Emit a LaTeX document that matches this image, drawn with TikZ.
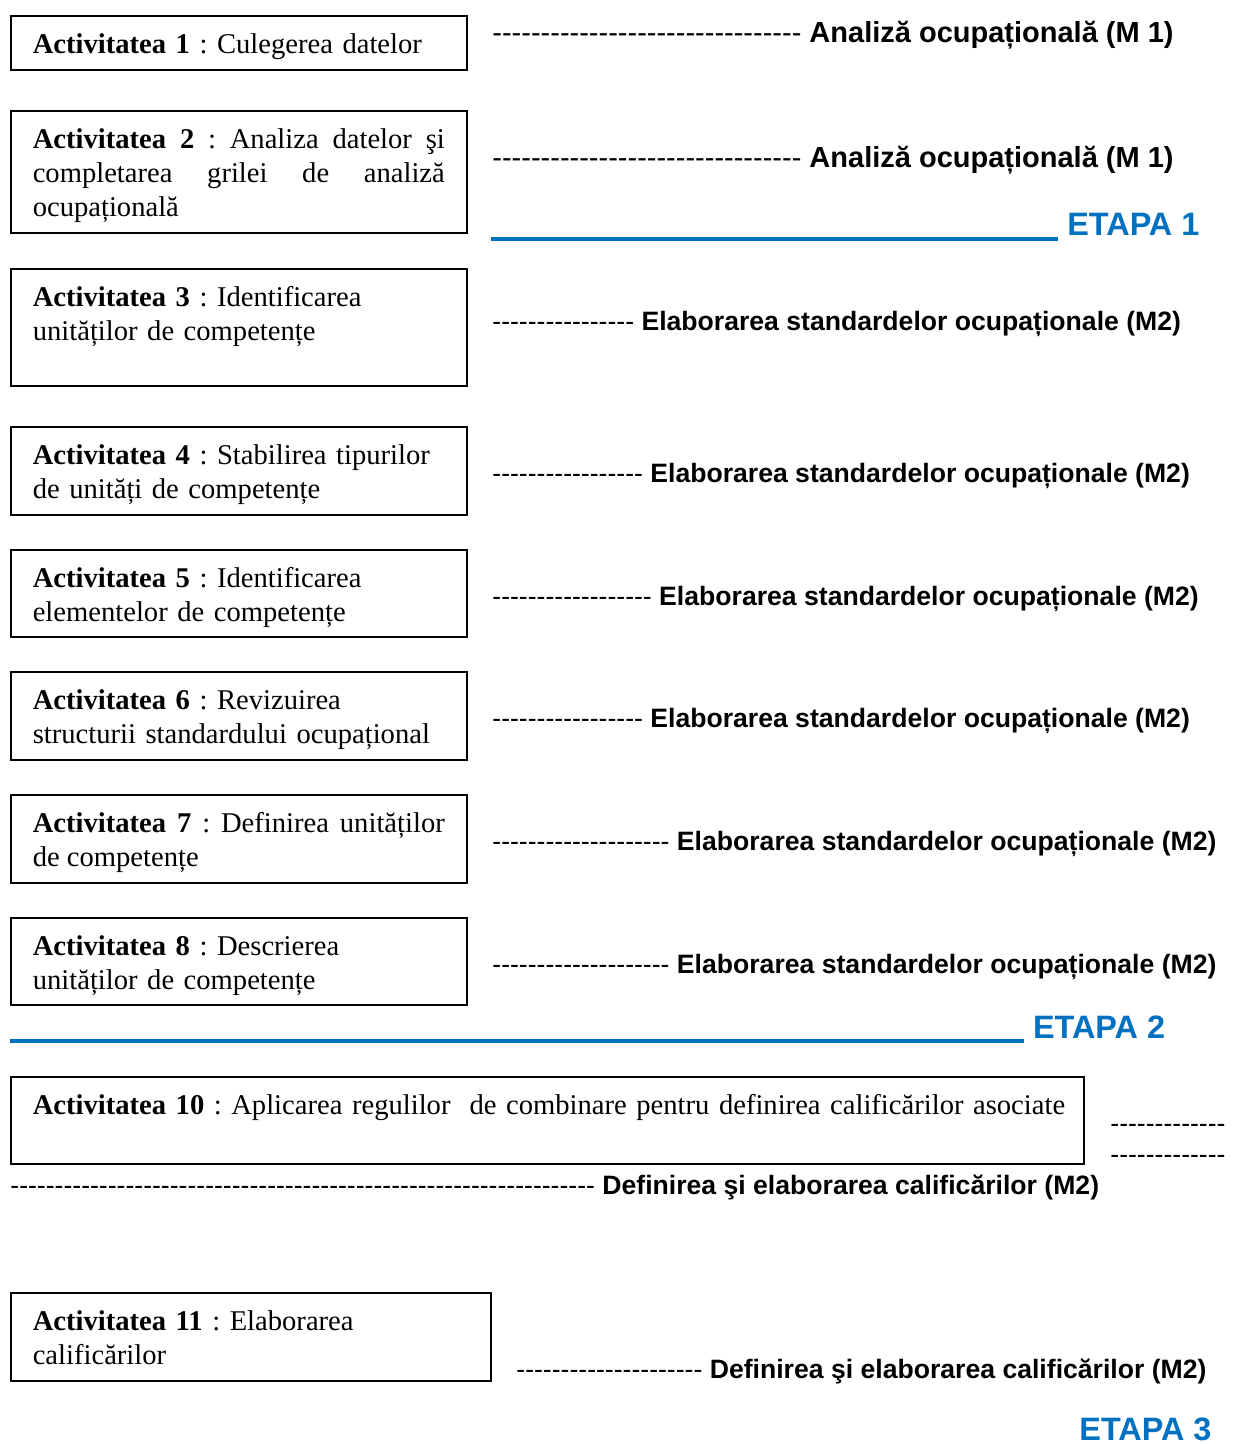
\documentclass[tikz,border=0pt]{standalone}
\usepackage{fontspec}
\setmainfont{Liberation Serif}
\newfontfamily\arial{Liberation Sans}
\definecolor{albastru}{RGB}{0,112,192}
\frenchspacing

\begin{document}
\begin{tikzpicture}[x=.5pt,y=-.5pt,
    act/.style={draw,line width=.8pt,anchor=north west,text width=206pt,inner xsep=11pt,inner ysep=0pt,
        align=left,text height=18.75pt,text depth=#1,font=\fontsize{14.3}{17}\selectfont},
    modul/.style={anchor=base west,inner sep=0pt,font=\arial\fontsize{13.3}{16}\selectfont\bfseries},
    etapa/.style={anchor=base west,inner sep=0pt,text=albastru,font=\arial\fontsize{16.2}{18}\selectfont\bfseries}]

    \def\liniute#1{{\mdseries\foreach\i in {1,...,#1}{-\kern0pt}}}
    \def\sub#1{\foreach\i in {1,...,#1}{\rule[-2.5pt]{8.59pt}{2pt}}}
    \useasboundingbox (0,0) rectangle (1232,1444);

    % activitatile (stanga)
    \node[act=8.25pt] (a1) at (10,15) {\textbf{Activitatea 1} : Culegerea datelor};
    \node[act=42.25pt,align=justify] (a2) at (10,110) {\textbf{Activitatea 2} : Analiza datelor şi\linebreak
        completarea grilei de analiză\linebreak ocupațională};
    \node[act=39.75pt] (a3) at (10,268) {\textbf{Activitatea 3} : Identificarea\\ unităților de competențe};
    \node[act=25.25pt] (a4) at (10,426) {\textbf{Activitatea 4} : Stabilirea tipurilor\\ de unități de competențe};
    \node[act=24.75pt] (a5) at (10,549) {\textbf{Activitatea 5} : Identificarea\\ elementelor de competențe};
    \node[act=25.25pt] (a6) at (10,671) {\textbf{Activitatea 6} : Revizuirea\\ structurii standardului ocupațional};
    \node[act=25.25pt,align=justify] (a7) at (10,794) {\textbf{Activitatea 7} : Definirea unităților\linebreak de competențe};
    \node[act=24.75pt] (a8) at (10,917) {\textbf{Activitatea 8} : Descrierea\\ unităților de competențe};
    \node[act=24.75pt,text width=514.5pt] (a10) at (10,1076) {\mbox{\textbf{Activitatea 10} : Aplicarea regulilor\ \ de combinare pentru definirea calificărilor asociate}};
    \node[act=25.25pt,text width=218pt] (a11) at (10,1292) {\textbf{Activitatea 11} : Elaborarea\\ calificărilor};

    % modulele (dreapta)
    \node[modul,font=\arial\fontsize{14.5}{17}\selectfont\bfseries] (m1) at (492,43) {\liniute{32} Analiză ocupațională (M 1)};
    \node[modul,font=\arial\fontsize{14.5}{17}\selectfont\bfseries] (m2) at (492,168) {\liniute{32} Analiză ocupațională (M 1)};
    \node[modul] (m3) at (492,330) {\liniute{16} Elaborarea standardelor ocupaționale (M2)};
    \node[modul] (m4) at (492,482) {\liniute{17} Elaborarea standardelor ocupaționale (M2)};
    \node[modul] (m5) at (492,605) {\liniute{18} Elaborarea standardelor ocupaționale (M2)};
    \node[modul] (m6) at (492,727) {\liniute{17} Elaborarea standardelor ocupaționale (M2)};
    \node[modul] (m7) at (492,850) {\liniute{20} Elaborarea standardelor ocupaționale (M2)};
    \node[modul] (m8) at (492,973) {\liniute{20} Elaborarea standardelor ocupaționale (M2)};
    \node[modul] (m10a) at (1110,1132) {\liniute{13}};
    \node[modul] (m10b) at (1110,1163) {\liniute{13}};
    \node[modul] (m10) at (10,1194) {\liniute{66} Definirea şi elaborarea calificărilor (M2)};
    \node[modul] (m11) at (516,1378) {\liniute{21} Definirea şi elaborarea calificărilor (M2)};

    % etapele
    \node[etapa] (e1) at (491,236) {\sub{33} ETAPA 1};
    \node[etapa] (e2) at (10,1038) {\sub{59} ETAPA 2};
    \node[etapa] (e3) at (1079,1440) {ETAPA 3};
\end{tikzpicture}
\end{document}
